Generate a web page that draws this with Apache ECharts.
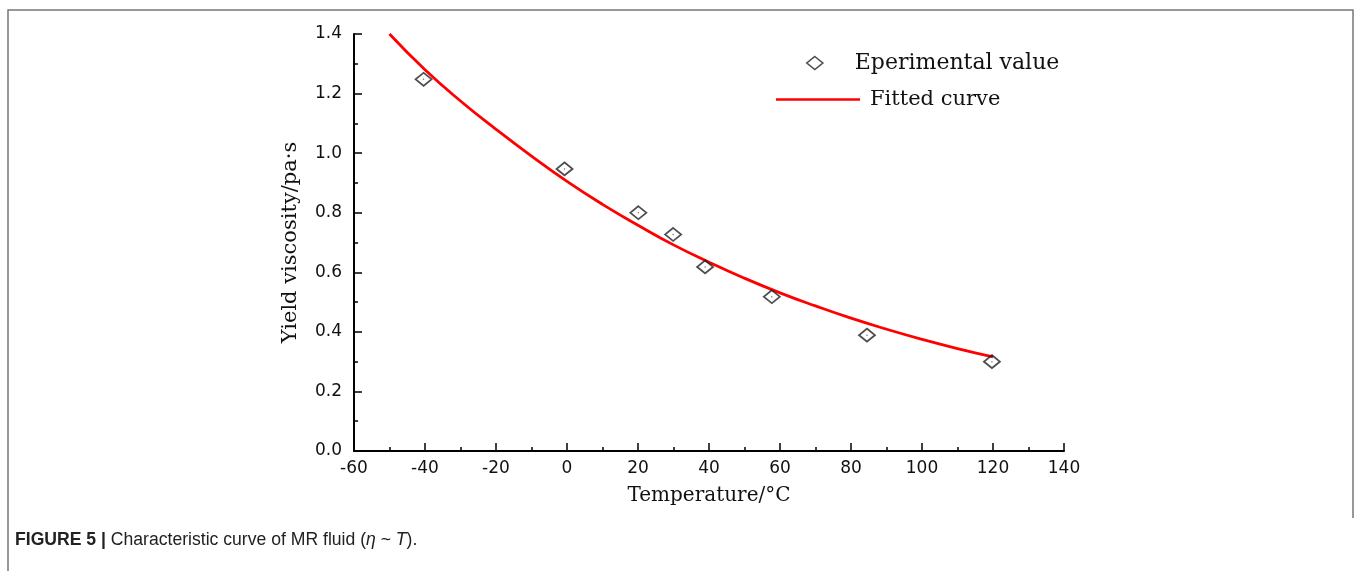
<!DOCTYPE html>
<html>
<head>
<meta charset="utf-8">
<script src="https://cdn.jsdelivr.net/npm/echarts@6/dist/echarts.min.js"></script>
<style>
html,body{margin:0;padding:0;background:#fff;}
#chart{width:1356px;height:571px;}
</style>
</head>
<body>
<div id="chart"></div>
<script>
// Experimental points [temperature °C, yield viscosity Pa·s]
var expTemps = [-40.4, -0.7, 20.1, 29.9, 38.9, 57.7, 84.5, 119.7];
var expValues = [1.248, 0.947, 0.800, 0.727, 0.618, 0.518, 0.389, 0.300];
// Fitted curve points
var fitTemps = [-50, -40, -30, -20, -10, 0, 10, 20, 30, 40, 50, 60, 70, 80, 90, 100, 110, 120];
var fitValues = [1.40, 1.28, 1.175, 1.08, 0.99, 0.905, 0.828, 0.758, 0.692, 0.634, 0.58, 0.531, 0.487, 0.446, 0.409, 0.375, 0.344, 0.316];
// Axis ticks
var xTicks = {min: -60, max: 140, step: 20};
var yTicks = {min: 0, max: 1.4, step: 0.2};

var expData = expTemps.map(function (t, i) { return [t, expValues[i]]; });
var fitData = fitTemps.map(function (t, i) { return [t, fitValues[i]]; });

var chart = echarts.init(document.getElementById('chart'), null, {renderer: 'canvas'});
var axisCommon = {
  axisLine: {show: true, onZero: false, lineStyle: {color: '#000', width: 2}},
  axisTick: {show: true, inside: true, length: 8, lineStyle: {color: '#000', width: 1.5}},
  minorTick: {show: true, splitNumber: 2, length: 4, lineStyle: {color: '#000', width: 1.5}},
  splitLine: {show: false},
  minorSplitLine: {show: false},
  axisLabel: {color: '#111', fontFamily: 'DejaVu Sans', fontSize: 17},
  nameTextStyle: {color: '#111', fontFamily: 'DejaVu Serif', fontSize: 20}
};

chart.setOption({
  animation: false,
  backgroundColor: '#fff',
  grid: {left: 354, top: 34, width: 710, height: 417, containLabel: false},
  xAxis: Object.assign({}, axisCommon, {
    type: 'value',
    min: xTicks.min, max: xTicks.max, interval: xTicks.step,
    name: 'Temperature/°C',
    nameLocation: 'middle',
    nameGap: 35,
    axisLabel: Object.assign({}, axisCommon.axisLabel, {margin: 9})
  }),
  yAxis: Object.assign({}, axisCommon, {
    type: 'value',
    min: yTicks.min, max: yTicks.max, interval: yTicks.step,
    name: 'Yield viscosity/pa·s',
    nameLocation: 'middle',
    nameGap: 53,
    nameTextStyle: Object.assign({}, axisCommon.nameTextStyle, {fontSize: 21}),
    axisLabel: Object.assign({}, axisCommon.axisLabel, {
      margin: 12,
      formatter: function (v) { return v.toFixed(1); }
    })
  }),
  legend: [
    {
      data: [{name: 'Eperimental value', icon: 'diamond'}],
      left: 801, top: 47,
      itemWidth: 16, itemHeight: 13,
      itemStyle: {color: 'rgba(255,255,255,0)', borderColor: '#222', borderWidth: 1.6},
      textStyle: {fontFamily: 'DejaVu Serif', fontSize: 22, color: '#111', padding: [0, 0, 0, 27]},
      selectedMode: false
    },
    {
      data: [{name: 'Fitted curve', icon: 'rect'}],
      left: 771, top: 84,
      itemWidth: 84, itemHeight: 2.5,
      itemStyle: {color: '#ff0000'},
      lineStyle: {opacity: 0},
      textStyle: {fontFamily: 'DejaVu Serif', fontSize: 21, color: '#111', padding: [0, 0, 0, 5]},
      selectedMode: false
    }
  ],
  series: [
    {
      name: 'Fitted curve',
      type: 'line',
      data: fitData,
      smooth: true,
      showSymbol: false,
      symbol: 'none',
      lineStyle: {color: '#ff0000', width: 2.8},
      itemStyle: {color: '#ff0000'},
      z: 2
    },
    {
      name: 'Eperimental value',
      type: 'scatter',
      data: expData,
      symbol: 'diamond',
      symbolSize: [16, 13],
      itemStyle: {color: 'rgba(255,255,255,0)', borderColor: '#222', borderWidth: 1.8},
      z: 3
    },
    {
      name: 'centre',
      type: 'scatter',
      data: expData,
      symbol: 'circle',
      symbolSize: 1.5,
      itemStyle: {color: '#555'},
      silent: true,
      z: 4
    }
  ],
  graphic: [
    {type: 'polyline', shape: {points: [[8, 571], [8, 10], [1353, 10], [1353, 518]]},
     style: {stroke: '#777', lineWidth: 1.5, fill: null}, silent: true},
    {type: 'text', left: 15, top: 531,
     style: {
       text: '{b|FIGURE 5 |} Characteristic curve of MR fluid ({i|η} ~ {i|T}).',
       fontFamily: 'Liberation Sans', fontSize: 17.6, fill: '#222',
       rich: {
         b: {fontFamily: 'Liberation Sans', fontSize: 17.6, fontWeight: 'bold', fill: '#222'},
         i: {fontFamily: 'Liberation Sans', fontSize: 17.6, fontStyle: 'italic', fill: '#222'}
       }
     }}
  ]
});
</script>
</body>
</html>
